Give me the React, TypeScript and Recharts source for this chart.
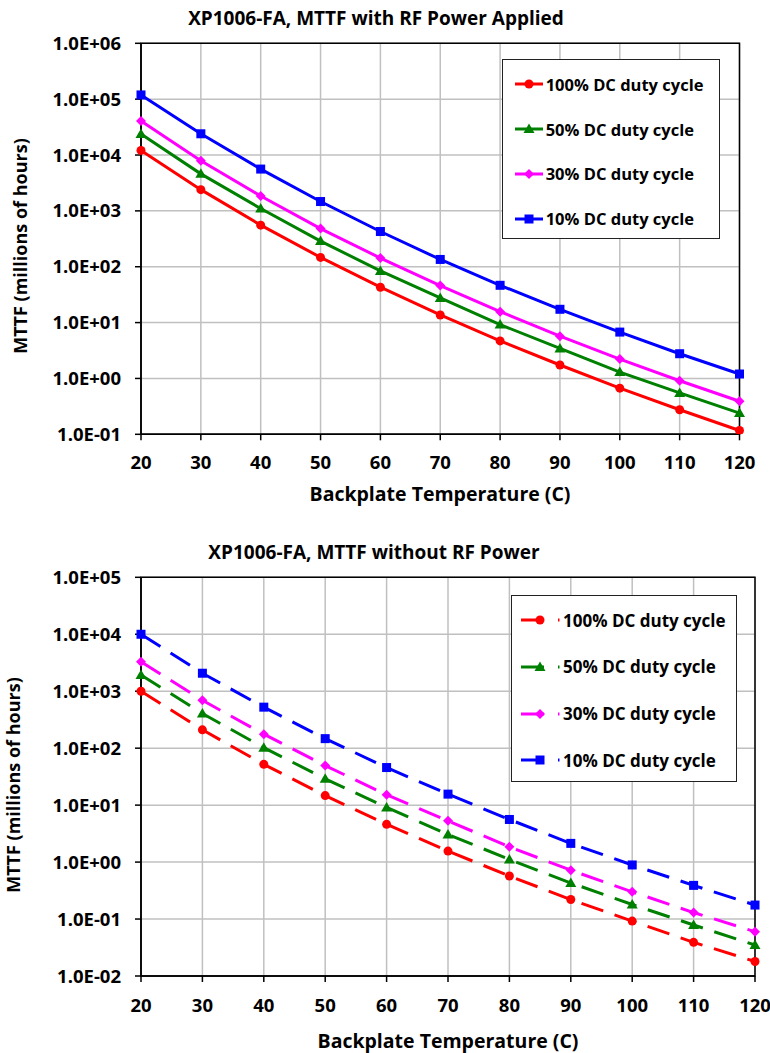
import React from "react";
import {
	CartesianGrid,
	Line,
	LineChart,
	ReferenceArea,
	XAxis,
	YAxis,
} from "recharts";

const temps = [20, 30, 40, 50, 60, 70, 80, 90, 100, 110, 120];

// with RF power applied
const rf100 = [12100, 2400, 555, 147, 43, 13.7, 4.7, 1.74, 0.67, 0.275, 0.117];
const rf50 = [23800, 4600, 1100, 288, 84, 27.6, 9.2, 3.44, 1.3, 0.55, 0.24];
const rf30 = [40500, 7900, 1850, 482, 143, 45.9, 15.7, 5.7, 2.22, 0.91, 0.39];
const rf10 = [119000, 24000, 5600, 1470, 427, 135, 46.5, 17.3, 6.76, 2.77, 1.2];

// without RF power
const off100 = [1000, 210, 52, 14.7, 4.6, 1.56, 0.57, 0.22, 0.092, 0.039, 0.018];
const off50 = [1930, 406, 102, 29, 9.1, 3.06, 1.11, 0.43, 0.18, 0.0786, 0.035];
const off30 = [3300, 692, 176, 49.5, 15.2, 5.3, 1.85, 0.72, 0.3, 0.13, 0.06];
const off10 = [10000, 2070, 525, 147, 45.7, 15.6, 5.6, 2.13, 0.89, 0.39, 0.176];

const seriesNames = [
	"100% DC duty cycle",
	"50% DC duty cycle",
	"30% DC duty cycle",
	"10% DC duty cycle",
];
const seriesKeys = ["s100", "s50", "s30", "s10"];
const seriesColors = ["#ff0000", "#008000", "#ff00ff", "#0000ff"];
const seriesShapes = ["circle", "triangle", "diamond", "square"];

const topTicks = [0.1, 1, 10, 100, 1000, 10000, 100000, 1000000];
const bottomTicks = [0.01, 0.1, 1, 10, 100, 1000, 10000, 100000];

const FONT = "'Open Sans', sans-serif";
const TICK_SIZE = 18.5;

const rfData = temps.map((t, i) => ({
	t,
	s100: rf100[i],
	s50: rf50[i],
	s30: rf30[i],
	s10: rf10[i],
}));
const offData = temps.map((t, i) => ({
	t,
	s100: off100[i],
	s50: off50[i],
	s30: off30[i],
	s10: off10[i],
}));

const sci = (v: number) => {
	const e = Math.round(Math.log10(v));
	return `1.0E${e < 0 ? "-" : "+"}${String(Math.abs(e)).padStart(2, "0")}`;
};

function Marker({ shape, color, cx, cy }: any) {
	if (cx == null || cy == null) return null;
	if (shape === "circle") return <circle cx={cx} cy={cy} r={4.5} fill={color} />;
	if (shape === "square")
		return <rect x={cx - 4.5} y={cy - 4.5} width={9} height={9} fill={color} />;
	if (shape === "triangle")
		return (
			<polygon
				points={`${cx},${cy - 5.5} ${cx - 5.5},${cy + 4} ${cx + 5.5},${cy + 4}`}
				fill={color}
			/>
		);
	return (
		<polygon
			points={`${cx},${cy - 5} ${cx + 5},${cy} ${cx},${cy + 5} ${cx - 5},${cy}`}
			fill={color}
		/>
	);
}

const makeDot = (shape: string, color: string) => (p: any) => (
	<Marker key={`d-${p.index}`} shape={shape} color={color} cx={p.cx} cy={p.cy} />
);

function MttfChart({
	data,
	ticks,
	dashed,
	width,
	height,
	margin,
}: {
	data: any[];
	ticks: number[];
	dashed: boolean;
	width: number;
	height: number;
	margin: any;
}) {
	const lo = ticks[0];
	const hi = ticks[ticks.length - 1];
	const tickStyle = {
		fill: "#000",
		fontSize: TICK_SIZE,
		fontWeight: 700,
		fontFamily: FONT,
	};
	return (
		<LineChart width={width} height={height} data={data} margin={margin}>
			<CartesianGrid stroke="#c0c0c0" strokeWidth={1.5} />
			<ReferenceArea
				x1={20}
				x2={120}
				y1={lo}
				y2={hi}
				stroke="#000"
				strokeWidth={1.5}
				fill="none"
				fillOpacity={0}
			/>
			<XAxis
				dataKey="t"
				type="number"
				domain={[20, 120]}
				ticks={temps}
				height={30}
				tickSize={6}
				tickMargin={dashed ? 17 : 16}
				stroke="#000"
				strokeWidth={1.5}
				tick={tickStyle}
			/>
			<YAxis
				type="number"
				scale="log"
				domain={[lo, hi]}
				allowDataOverflow
				ticks={ticks}
				width={141}
				tickSize={6}
				tickMargin={14}
				stroke="#000"
				strokeWidth={1.5}
				tickFormatter={sci}
				tick={tickStyle}
			/>
			{seriesKeys.map((k, i) => (
				<Line
					key={k}
					dataKey={k}
					type="linear"
					stroke={seriesColors[i]}
					strokeWidth={3}
					strokeDasharray={dashed ? "23 12" : undefined}
					dot={makeDot(seriesShapes[i], seriesColors[i])}
					activeDot={false}
					isAnimationActive={false}
				/>
			))}
		</LineChart>
	);
}

function LegendBox({
	left,
	top,
	width,
	height,
	rowGap,
	firstRow,
	dashed,
	fontSize,
}: any) {
	return (
		<div
			style={{
				position: "absolute",
				left,
				top,
				width,
				height,
				border: "1.5px solid #222",
				background: "#fff",
				boxSizing: "border-box",
			}}
		>
			{seriesNames.map((name, i) => {
				const cy = firstRow + i * rowGap;
				return (
					<div
						key={name}
						style={{
							position: "absolute",
							left: 0,
							top: cy - 12,
							height: 24,
							display: "flex",
							alignItems: "center",
							whiteSpace: "nowrap",
						}}
					>
						{dashed ? (
							<svg width={51} height={24} style={{ display: "block" }}>
								<line
									x1={9}
									x2={47.5}
									y1={12}
									y2={12}
									stroke={seriesColors[i]}
									strokeWidth={3}
									strokeDasharray="23 14"
								/>
								<Marker shape={seriesShapes[i]} color={seriesColors[i]} cx={28} cy={12} />
							</svg>
						) : (
							<svg width={43} height={24} style={{ display: "block" }}>
								<line
									x1={12}
									x2={40}
									y1={12}
									y2={12}
									stroke={seriesColors[i]}
									strokeWidth={3}
								/>
								<Marker shape={seriesShapes[i]} color={seriesColors[i]} cx={26} cy={12} />
							</svg>
						)}
						<span
							style={{
								fontFamily: FONT,
								fontWeight: 700,
								fontSize,
								color: "#000",
							}}
						>
							{name}
						</span>
					</div>
				);
			})}
		</div>
	);
}

const titleStyle: React.CSSProperties = {
	position: "absolute",
	fontFamily: FONT,
	fontWeight: 700,
	fontSize: 19,
	color: "#000",
	whiteSpace: "nowrap",
	transform: "translate(-50%, -50%)",
};

const axisTitleStyle: React.CSSProperties = {
	...titleStyle,
	fontSize: 19.5,
};

const yTitleStyle: React.CSSProperties = {
	...titleStyle,
	fontSize: 18,
	transform: "translate(-50%, -50%) rotate(-90deg)",
};

export default function App() {
	return (
		<div
			style={{
				position: "absolute",
				left: 0,
				top: 0,
				width: 770,
				height: 1053,
				background: "#fff",
				overflow: "hidden",
			}}
		>
			<div style={{ ...titleStyle, left: 376, top: 18 }}>
				XP1006-FA, MTTF with RF Power Applied
			</div>
			<div style={{ position: "absolute", left: 0, top: 0 }}>
				<MttfChart
					data={rfData}
					ticks={topTicks}
					dashed={false}
					width={770}
					height={500}
					margin={{ top: 43.3, right: 30.5, bottom: 35.7, left: 0 }}
				/>
			</div>
			<div style={{ ...axisTitleStyle, left: 440, top: 493 }}>
				Backplate Temperature (C)
			</div>
			<div style={{ ...yTitleStyle, left: 20, top: 246 }}>
				MTTF (millions of hours)
			</div>
			<LegendBox
				left={501.7}
				top={59.3}
				width={218.3}
				height={180}
				firstRow={24}
				rowGap={44.8}
				dashed={false}
				fontSize={16.5}
			/>

			<div style={{ ...titleStyle, left: 374, top: 552 }}>
				XP1006-FA, MTTF without RF Power
			</div>
			<div style={{ position: "absolute", left: 0, top: 520 }}>
				<MttfChart
					data={offData}
					ticks={bottomTicks}
					dashed={true}
					width={770}
					height={533}
					margin={{ top: 57.3, right: 15, bottom: 47, left: 0 }}
				/>
			</div>
			<div style={{ ...axisTitleStyle, left: 448, top: 1040 }}>
				Backplate Temperature (C)
			</div>
			<div style={{ ...yTitleStyle, left: 13, top: 785 }}>
				MTTF (millions of hours)
			</div>
			<LegendBox
				left={511}
				top={595}
				width={225.7}
				height={186.7}
				firstRow={24.3}
				rowGap={46.6}
				dashed={true}
				fontSize={17}
			/>
		</div>
	);
}
